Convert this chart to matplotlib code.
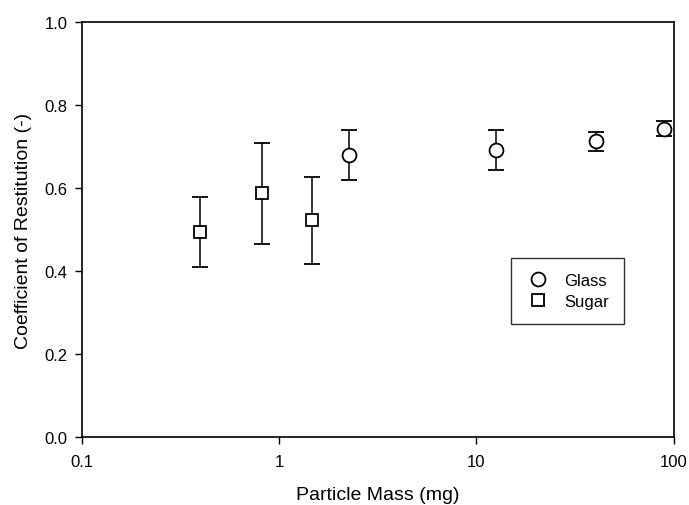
import numpy as np
import matplotlib.pyplot as plt
from matplotlib.ticker import FixedLocator, FixedFormatter, NullLocator

plt.rcParams['font.family'] = ['Liberation Sans', 'DejaVu Sans']

# glass beads
glass_mass = [2.26, 12.5, 40.5, 89.4]
glass_cor = [0.679, 0.692, 0.713, 0.743]
glass_lo = [0.618, 0.643, 0.690, 0.725]
glass_hi = [0.740, 0.740, 0.735, 0.761]

# sugar particles
sugar_mass = [0.40, 0.82, 1.47]
sugar_cor = [0.494, 0.587, 0.523]
sugar_lo = [0.409, 0.466, 0.417]
sugar_hi = [0.577, 0.709, 0.627]

x_ticks = [0.1, 1, 10, 100]
x_labels = ['0.1', '1', '10', '100']
y_ticks = [0.0, 0.2, 0.4, 0.6, 0.8, 1.0]

fig = plt.figure(figsize=(6.89, 5.06), dpi=100)
ax = fig.add_axes([0.1183, 0.134, 0.8599, 0.821])

def err(c, lo, hi):
    c = np.array(c)
    return [c - np.array(lo), np.array(hi) - c]

ax.errorbar(sugar_mass, sugar_cor, yerr=err(sugar_cor, sugar_lo, sugar_hi),
            fmt='s', ms=9, mfc='white', mec='black', mew=1.3,
            ecolor='black', elinewidth=1.1, capsize=6, capthick=1.1,
            label='Sugar', zorder=3)
ax.errorbar(glass_mass, glass_cor, yerr=err(glass_cor, glass_lo, glass_hi),
            fmt='o', ms=10, mfc='white', mec='black', mew=1.3,
            ecolor='black', elinewidth=1.1, capsize=6, capthick=1.1,
            label='Glass', zorder=3)

ax.set_xscale('log')
ax.set_xlim(0.1, 100)
ax.set_ylim(0, 1)
ax.xaxis.set_major_locator(FixedLocator(x_ticks))
ax.xaxis.set_major_formatter(FixedFormatter(x_labels))
ax.xaxis.set_minor_locator(NullLocator())
ax.set_yticks(y_ticks)
ax.set_yticklabels([f'{v:.1f}' for v in y_ticks])
ax.tick_params(direction='out', length=5, width=1, labelsize=12, pad=5)
ax.tick_params(axis='x', pad=7)
for s in ax.spines.values():
    s.set_linewidth(1.2)

ax.set_xlabel('Particle Mass (mg)', fontsize=14, labelpad=12)
ax.set_ylabel('Coefficient of Restitution (-)', fontsize=14, labelpad=9)

h, l = ax.get_legend_handles_labels()
h = [hh[0] for hh in h]
leg = ax.legend(h[::-1], l[::-1], loc='upper left', bbox_to_anchor=(0.725, 0.432),
                frameon=True, fancybox=False, edgecolor='black', fontsize=12,
                handletextpad=0.9, borderpad=0.9, borderaxespad=0, handlelength=1.4,
                labelspacing=0.35)
leg.get_frame().set_linewidth(1.0)

fig.savefig('out.png', dpi=100)
